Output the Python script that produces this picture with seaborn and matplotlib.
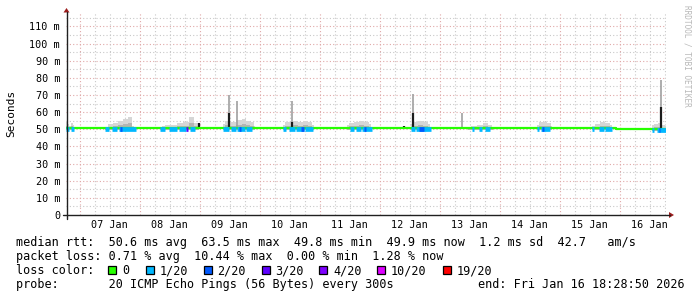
import numpy as np
import pandas as pd
import matplotlib
matplotlib.use("Agg")
import matplotlib.pyplot as plt
from matplotlib.patches import Rectangle, Polygon
import seaborn as sns

# ---------------- data ----------------
# time axis: hours since Jan 6 18:28:50 (graph start, 10 days shown)
first_midnight_hours = 5.519
day_labels = ["07 Jan", "08 Jan", "09 Jan", "10 Jan", "11 Jan",
              "12 Jan", "13 Jan", "14 Jan", "15 Jan", "16 Jan"]
y_ticks = [0, 10, 20, 30, 40, 50, 60, 70, 80, 90, 100, 110]
y_tick_labels = ["0", "10 m", "20 m", "30 m", "40 m", "50 m", "60 m",
                 "70 m", "80 m", "90 m", "100 m", "110 m"]

# median rtt (ms)
median_hours = [0.0, 219.9, 219.9, 240.0]
median_ms = [50.6, 50.6, 49.9, 49.9]

# smoke (max rtt envelope, ms); None separates bursts
smoke_hours = [0.0, 0.8, 1.6, 2.4, 3.2, None,
               15.7, 17.7, 19.7, 21.7, 23.7, 25.7, 27.0, None,
               38.3, 40.8, 43.2, 45.6, 48.0, 50.0, 52.0, 53.2, None,
               62.8, 64.0, 66.4, 69.6, 71.2, 72.8, 74.4, 75.6, None,
               86.8, 88.4, 91.6, 93.6, 95.6, 97.6, 99.2, None,
               112.4, 114.0, 116.0, 118.0, 120.0, 122.0, None,
               138.0, 139.6, 141.6, 143.6, 145.6, None,
               160.8, 163.2, 165.6, 167.6, 169.6, 170.8, None,
               188.4, 190.0, 191.6, 193.2, 194.4, None,
               210.4, 212.4, 214.4, 216.4, 218.4, None,
               234.4, 236.0, 237.6, 239.2, 240.0]
smoke_top_ms = [54.5, 53.0, 52.0, 53.5, 52.5, None,
                51.5, 53.0, 53.5, 55.0, 56.0, 57.0, 52.0, None,
                52.0, 52.5, 52.5, 53.5, 54.0, 57.0, 53.5, 53.8, None,
                53.0, 55.0, 54.5, 55.5, 56.0, 55.0, 54.0, 52.0, None,
                52.5, 54.0, 55.0, 54.5, 55.0, 54.0, 52.5, None,
                52.5, 53.5, 54.5, 55.0, 54.5, 53.0, None,
                53.0, 54.0, 55.0, 54.5, 53.0, None,
                51.5, 52.0, 52.5, 53.5, 52.5, 51.5, None,
                52.5, 54.0, 54.5, 53.5, 52.0, None,
                52.0, 53.0, 54.0, 53.5, 52.5, None,
                52.5, 53.0, 53.5, 52.5, 52.0]

# isolated spikes (ms): full height and dense (dark) part
spike_hours = [53.2, 65.2, 68.3, 90.3, 135.2, 138.8, 158.5, 238.0]
spike_top_ms = [53.8, 70.0, 66.5, 66.5, 52.1, 70.4, 59.3, 78.8]
spike_dark_ms = [53.8, 59.3, 50.6, 54.4, 52.1, 59.3, 50.6, 63.2]

# packet loss periods (index into loss legend)
loss_start = [0.0, 2.0, 15.7, 18.4, 21.0, 21.5, 37.7, 41.0, 45.0, 48.0, 49.6,
              62.8, 66.0, 68.5, 69.0, 72.0, 86.8, 89.0, 92.0, 94.0, 95.5,
              113.6, 116.0, 118.5, 119.0, 138.0, 140.0, 141.0,
              162.4, 165.0, 167.5, 188.4, 190.0, 190.5,
              210.4, 213.0, 215.5, 234.4, 236.4, 237.0]
loss_end = [1.2, 3.3, 17.1, 20.4, 28.0, 22.3, 39.7, 44.4, 48.0, 48.8, 51.5,
            65.0, 68.0, 71.5, 70.0, 74.4, 88.0, 91.5, 95.0, 95.0, 98.8,
            115.0, 118.0, 122.4, 120.0, 139.5, 146.0, 143.0,
            163.2, 166.5, 169.6, 189.0, 193.6, 191.2,
            211.2, 215.0, 218.4, 235.2, 240.0, 237.6]
loss_level = [1, 1, 1, 1, 1, 2, 1, 1, 1, 3, 1,
              1, 1, 1, 2, 1, 1, 1, 1, 2, 1,
              1, 1, 1, 2, 1, 1, 2,
              1, 1, 1, 1, 1, 2,
              1, 1, 1, 1, 1, 2]

loss_labels = ["0", "1/20", "2/20", "3/20", "4/20", "10/20", "19/20"]
loss_colors = ["#26ff00", "#00b8ff", "#0059ff", "#5e00ff", "#7e00ff",
               "#dd00ff", "#ff0000"]

legend_rtt = "median rtt:  50.6 ms avg  63.5 ms max  49.8 ms min  49.9 ms now  1.2 ms sd  42.7   am/s"
legend_loss = "packet loss: 0.71 % avg  10.44 % max  0.00 % min  1.28 % now"
legend_color = "loss color:"
legend_probe = "probe:       20 ICMP Echo Pings (56 Bytes) every 300s"
legend_end = "end: Fri Jan 16 18:28:50 2026"
watermark = "RRDTOOL / TOBI OETIKER"

# ---------------- drawing ----------------
sns.set_theme(style="white")
plt.rcParams["font.family"] = ["DejaVu Sans Mono", "DejaVu Sans"]
MONO = "DejaVu Sans Mono"

W, H = 697, 297
fig = plt.figure(figsize=(W / 100, H / 100), dpi=100)
fig.patch.set_facecolor("white")


def fx(px):
    return px / W


def fy(py):
    return 1 - py / H


ax = fig.add_axes([fx(66), fy(215), 600 / W, 203 / H])
ax.set_facecolor("white")
ax.set_xlim(0, 240)
ax.set_ylim(0, 118.4)
for s in ax.spines.values():
    s.set_visible(False)

minor_c = "#c8c8c8"
major_c = "#e0a8a8"
dots = (0, (1, 2))
for y in range(5, 119, 5):
    ax.axhline(y, color=major_c if y % 10 == 0 else minor_c, lw=0.8, ls=dots, zorder=0)
for k in range(40):
    xh = first_midnight_hours + 6 * k
    if xh <= 240:
        ax.axvline(xh, color=major_c if k % 4 == 0 else minor_c, lw=0.8, ls=dots, zorder=0)

# smoke
bursts = []
cur_h, cur_v = [], []
for h, v in zip(smoke_hours, smoke_top_ms):
    if h is None:
        bursts.append((cur_h, cur_v))
        cur_h, cur_v = [], []
    else:
        cur_h.append(h)
        cur_v.append(v)
if cur_h:
    bursts.append((cur_h, cur_v))
for bh, bv in bursts:
    bh = np.array(bh)
    bv = np.array(bv)
    base = np.interp(bh, median_hours, median_ms) - 0.8
    ax.fill_between(bh, base, bv, step="mid", color="#d6d6d6", lw=0, zorder=1)
    ax.fill_between(bh, base, base + 0.5 * (bv - base), step="mid",
                    color="#b4b4b4", lw=0, zorder=1.1)

# spikes
sp_base = np.interp(spike_hours, median_hours, median_ms)
ax.vlines(spike_hours, sp_base, spike_top_ms, color="#a0a0a0", lw=1.2, zorder=1.2)
ax.vlines(spike_hours, sp_base, spike_dark_ms, color="#1c1c1c", lw=1.6, zorder=1.3)

# median line (no loss)
df = pd.DataFrame({"hours": median_hours, "ms": median_ms})
sns.lineplot(data=df, x="hours", y="ms", ax=ax, color=loss_colors[0], lw=1.6,
             estimator=None, sort=False, zorder=2)

# loss-coloured median segments
for s0, e0, lv in zip(loss_start, loss_end, loss_level):
    yv = float(np.interp(s0, median_hours, median_ms))
    ax.hlines(yv - 0.4, s0, e0, color=loss_colors[lv], lw=3.4, zorder=3)

ax.set_xlabel("")
ax.set_ylabel("")
ax.set_yticks(y_ticks)
ax.set_yticklabels(y_tick_labels, family=MONO, fontsize=7.3)
noons = [first_midnight_hours + 12 + 24 * k for k in range(len(day_labels))]
ax.set_xticks(noons)
ax.set_xticklabels(day_labels, family=MONO, fontsize=7.3)
ax.tick_params(axis="y", length=0, pad=4.3, colors="black")
ax.tick_params(axis="x", length=0, pad=3.6, colors="black")
ax.grid(False)

# axis lines and arrows
axc = "#202020"
arrow_c = "#9b1c1c"
fig.add_artist(plt.Line2D([fx(66.5), fx(66.5)], [fy(218.5), fy(12)], color=axc, lw=1.0))
fig.add_artist(plt.Line2D([fx(62.5), fx(670)], [fy(215), fy(215)], color=axc, lw=1.0))
fig.add_artist(Polygon([(fx(63.5), fy(12.5)), (fx(69.5), fy(12.5)), (fx(66.5), fy(8))],
                       closed=True, transform=fig.transFigure, color=arrow_c, lw=0))
fig.add_artist(Polygon([(fx(669), fy(212)), (fx(669), fy(218)), (fx(674), fy(215))],
                       closed=True, transform=fig.transFigure, color=arrow_c, lw=0))

# labels
fig.text(fx(11), fy(113.5), "Seconds", rotation=90, ha="center", va="center",
         family=MONO, fontsize=8, color="black")
fig.text(fx(686.5), fy(5), watermark, rotation=270, ha="center", va="top",
         family=MONO, fontsize=5.6, color="#b8b8b8")

LF = 8.5
fig.text(fx(16), fy(246), legend_rtt, family=MONO, fontsize=LF, va="baseline", color="black")
fig.text(fx(16), fy(260), legend_loss, family=MONO, fontsize=LF, va="baseline", color="black")
fig.text(fx(16), fy(274), legend_color, family=MONO, fontsize=LF, va="baseline", color="black")
fig.text(fx(16), fy(288), legend_probe, family=MONO, fontsize=LF, va="baseline", color="black")
fig.text(fx(478), fy(288), legend_end, family=MONO, fontsize=LF, va="baseline", color="black")

sq_left = [108, 146, 203.5, 261.5, 319, 377, 443]
for xl, lab, col in zip(sq_left, loss_labels, loss_colors):
    fig.add_artist(Rectangle((fx(xl), fy(273.5)), 8 / W, 8 / H, transform=fig.transFigure,
                             facecolor=col, edgecolor="black", lw=0.9))
    fig.text(fx(xl + 14), fy(274), lab, family=MONO, fontsize=LF, va="baseline", color="black")

fig.savefig("out.png", dpi=100, facecolor="white")
